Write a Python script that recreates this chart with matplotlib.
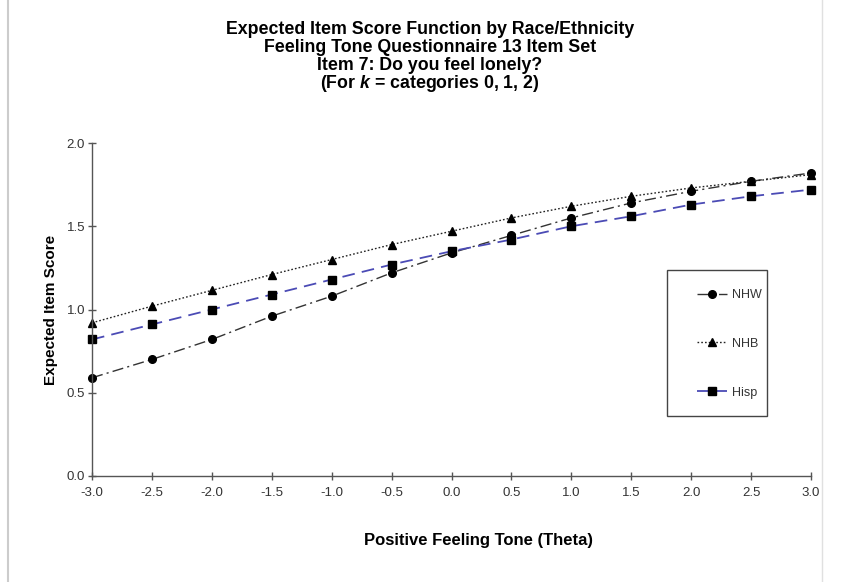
import matplotlib
matplotlib.use('Agg')
import matplotlib.pyplot as plt
from matplotlib.lines import Line2D
from matplotlib.patches import Rectangle

plt.rcParams['font.family'] = ['Liberation Sans', 'DejaVu Sans']
plt.rcParams['mathtext.fontset'] = 'custom'
plt.rcParams['mathtext.it'] = 'Liberation Sans:italic:bold'
plt.rcParams['mathtext.rm'] = 'Liberation Sans:bold'

theta = [-3.0, -2.5, -2.0, -1.5, -1.0, -0.5, 0.0, 0.5, 1.0, 1.5, 2.0, 2.5, 3.0]
nhw = [0.59, 0.70, 0.82, 0.96, 1.08, 1.22, 1.34, 1.445, 1.55, 1.64, 1.71, 1.77, 1.82]
nhb = [0.92, 1.02, 1.115, 1.21, 1.30, 1.39, 1.47, 1.55, 1.62, 1.68, 1.73, 1.77, 1.81]
hisp = [0.82, 0.91, 1.00, 1.09, 1.18, 1.27, 1.35, 1.42, 1.50, 1.56, 1.63, 1.68, 1.72]

xticks = [-3.0, -2.5, -2.0, -1.5, -1.0, -0.5, 0.0, 0.5, 1.0, 1.5, 2.0, 2.5, 3.0]
yticks = [0.0, 0.5, 1.0, 1.5, 2.0]

fig = plt.figure(figsize=(8.5, 5.82), dpi=100)
ax = fig.add_axes([92/850, 1 - 476/582, 719/850, 333/582])

ax.plot(theta, nhw, color='#333333', linestyle=(0, (8, 3, 1.5, 3)), linewidth=1.0,
        marker='o', markersize=5.5, markerfacecolor='black', markeredgecolor='black',
        label='NHW', clip_on=False)
ax.plot(theta, nhb, color='#222222', linestyle=(0, (1.2, 1.5)), linewidth=1.0,
        marker='^', markersize=5.5, markerfacecolor='black', markeredgecolor='black',
        label='NHB', clip_on=False)
ax.plot(theta, hisp, color='#4b4bb5', linestyle=(0, (7, 4)), linewidth=1.3,
        marker='s', markersize=5.5, markerfacecolor='black', markeredgecolor='black',
        label='Hisp', clip_on=False)

ax.set_xlim(-3, 3)
ax.set_ylim(0, 2)
ax.set_xticks(xticks)
ax.set_xticklabels(['%.1f' % t for t in xticks])
ax.set_yticks(yticks)
ax.set_yticklabels(['%.1f' % t for t in yticks])
ax.spines['top'].set_visible(False)
ax.spines['right'].set_visible(False)
for s in ['left', 'bottom']:
    ax.spines[s].set_color('#555555')
    ax.spines[s].set_linewidth(1.0)
ax.tick_params(direction='inout', length=6, width=1, colors='#555555', labelcolor='#333333',
               labelsize=9.5)
ax.tick_params(axis='y', pad=2)
ax.tick_params(axis='x', pad=5)

ax.set_ylabel('Expected Item Score', fontsize=11, fontweight='bold', labelpad=6)
fig.text(478/850, 1 - 541/582, 'Positive Feeling Tone (Theta)', fontsize=12, fontweight='bold',
         ha='center', va='center')

titles = ['Expected Item Score Function by Race/Ethnicity',
          'Feeling Tone Questionnaire 13 Item Set',
          'Item 7: Do you feel lonely?',
          '(For $k$ = categories 0, 1, 2)']
for i, t in enumerate(titles):
    fig.text(430/850, 1 - (30 + 18 * i) / 582, t, fontsize=12.8, fontweight='bold',
             ha='center', va='center')

# legend box drawn separately, entries placed inside
box = Rectangle(((667 - 92) / 719, (476 - 416) / 333), 100 / 719, 146 / 333,
                transform=ax.transAxes, fill=False, edgecolor='#444444', linewidth=1.0,
                clip_on=False)
ax.add_patch(box)
leg = ax.legend(loc='center', bbox_to_anchor=(0.886, 0.397), frameon=False,
                labelspacing=2.95, handlelength=2.4, handletextpad=0.4, fontsize=9,
                borderaxespad=0, borderpad=0)
for txt in leg.get_texts():
    txt.set_color('#333333')

# faint frame of the chart area
fig.add_artist(Line2D([8/850, 8/850], [0, 1], color='#cccccc', linewidth=1.5))
fig.add_artist(Line2D([822/850, 822/850], [0, 1], color='#e0e0e0', linewidth=1.0))

fig.savefig('out.png', dpi=100)
